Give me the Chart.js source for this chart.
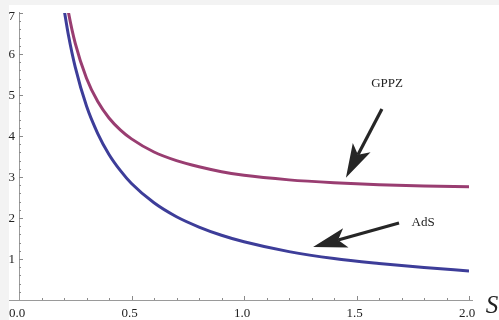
<!DOCTYPE html>
<html>
<head>
<meta charset="utf-8">
<script src="https://cdn.jsdelivr.net/npm/chart.js@4/dist/chart.umd.min.js"></script>
<style>
  html, body { margin: 0; padding: 0; background: #fff; }
  #wrap { width: 499px; height: 320px; }
</style>
</head>
<body>
<div id="wrap"><canvas id="plot" width="499" height="320"></canvas></div>
<script>
// sample points along S
const sValues = [0.2, 0.22, 0.25, 0.3, 0.35, 0.4, 0.45, 0.5, 0.6, 0.7, 0.8, 0.9, 1.0, 1.2, 1.4, 1.6, 1.8, 2.0];
const adsValues = [7.1, 6.45, 5.68, 4.73, 4.06, 3.55, 3.16, 2.84, 2.37, 2.03, 1.78, 1.58, 1.42, 1.18, 1.01, 0.89, 0.79, 0.71];
const gppzValues = [7.67, 7.01, 6.26, 5.41, 4.84, 4.44, 4.15, 3.93, 3.61, 3.4, 3.25, 3.13, 3.04, 2.93, 2.86, 2.81, 2.78, 2.76];

const xTicks = [0, 0.5, 1.0, 1.5, 2.0];
const xTickLabels = ["0.0", "0.5", "1.0", "1.5", "2.0"];
const yTicks = [1, 2, 3, 4, 5, 6, 7];
const yTickLabels = ["1", "2", "3", "4", "5", "6", "7"];

// arrow annotations in data units: [fromS, fromY, toS, toY]
const gppzArrow = [1.613, 4.66, 1.453, 2.98];
const adsArrow = [1.689, 1.88, 1.307, 1.29];
const gppzLabel = { text: "GPPZ", s: 1.636, y: 5.27 };
const adsLabel = { text: "AdS", s: 1.796, y: 1.88 };

const serif = '"Liberation Serif", "DejaVu Serif", serif';

function toPoints(values) {
  return sValues.map((s, i) => ({ x: s, y: values[i] }));
}

function drawArrow(ctx, x1, y1, x2, y2) {
  const ang = Math.atan2(y2 - y1, x2 - x1);
  const headLen = 34;
  const headHalf = 10;
  const notch = 26;
  const cos = Math.cos(ang), sin = Math.sin(ang);
  ctx.save();
  ctx.strokeStyle = "#262626";
  ctx.fillStyle = "#262626";
  ctx.lineWidth = 3.2;
  ctx.beginPath();
  ctx.moveTo(x1, y1);
  ctx.lineTo(x2 - cos * notch, y2 - sin * notch);
  ctx.stroke();
  const bx = x2 - cos * headLen, by = y2 - sin * headLen;
  ctx.beginPath();
  ctx.moveTo(x2, y2);
  ctx.lineTo(bx - sin * headHalf, by + cos * headHalf);
  ctx.lineTo(x2 - cos * notch, y2 - sin * notch);
  ctx.lineTo(bx + sin * headHalf, by - cos * headHalf);
  ctx.closePath();
  ctx.fill();
  ctx.restore();
}

const framePlugin = {
  id: "frame",
  beforeDraw(chart) {
    const ctx = chart.ctx;
    ctx.save();
    ctx.fillStyle = "#f3f3f3";
    ctx.fillRect(0, 0, chart.width, chart.height);
    ctx.fillStyle = "#ffffff";
    ctx.fillRect(9, 5, chart.width - 9, chart.height - 5);
    ctx.restore();
  },
  afterDatasetsDraw(chart) {
    const ctx = chart.ctx;
    const xs = chart.scales.x, ys = chart.scales.y;
    const x0 = xs.getPixelForValue(0);
    const y0 = ys.getPixelForValue(0);
    ctx.save();

    // axes
    ctx.strokeStyle = "#9a9a9a";
    ctx.lineWidth = 1;
    ctx.beginPath();
    ctx.moveTo(x0 + 0.5, ys.getPixelForValue(7) - 1);
    ctx.lineTo(x0 + 0.5, y0);
    ctx.moveTo(x0 - 10, y0 + 0.5);
    ctx.lineTo(xs.getPixelForValue(2.0) + 4, y0 + 0.5);
    ctx.stroke();

    // ticks drawn inward, minor every 0.1 on x and 0.2 on y
    ctx.strokeStyle = "#8a8a8a";
    ctx.beginPath();
    for (let i = 1; i <= 20; i++) {
      const px = Math.round(xs.getPixelForValue(i / 10)) + 0.5;
      const len = i % 5 === 0 ? 4 : 2;
      ctx.moveTo(px, y0);
      ctx.lineTo(px, y0 - len);
    }
    for (let i = 1; i <= 35; i++) {
      const py = Math.round(ys.getPixelForValue(i / 5)) + 0.5;
      const len = i % 5 === 0 ? 4 : 2;
      ctx.moveTo(x0, py);
      ctx.lineTo(x0 + len, py);
    }
    ctx.stroke();

    // tick labels
    ctx.fillStyle = "#222";
    ctx.font = "13px " + serif;
    ctx.textAlign = "center";
    ctx.textBaseline = "alphabetic";
    xTicks.forEach((v, i) => {
      ctx.fillText(xTickLabels[i], xs.getPixelForValue(v) - 2, y0 + 17);
    });
    ctx.textAlign = "right";
    ctx.textBaseline = "middle";
    yTicks.forEach((v, i) => {
      const py = Math.max(ys.getPixelForValue(v), 16);
      ctx.fillText(yTickLabels[i], x0 - 4, py + 1);
    });

    // axis title
    ctx.font = "italic 25px " + serif;
    ctx.textAlign = "center";
    ctx.textBaseline = "alphabetic";
    ctx.fillText("S", 492, y0 + 13);

    // annotations
    [gppzArrow, adsArrow].forEach(a => {
      drawArrow(ctx, xs.getPixelForValue(a[0]), ys.getPixelForValue(a[1]),
        xs.getPixelForValue(a[2]), ys.getPixelForValue(a[3]));
    });
    ctx.font = "13px " + serif;
    ctx.textBaseline = "middle";
    [gppzLabel, adsLabel].forEach(l => {
      ctx.fillText(l.text, xs.getPixelForValue(l.s), ys.getPixelForValue(l.y));
    });
    ctx.restore();
  }
};

new Chart(document.getElementById("plot").getContext("2d"), {
  type: "line",
  data: {
    datasets: [
      {
        label: "AdS",
        data: toPoints(adsValues),
        borderColor: "#3d3d99",
        borderWidth: 3,
        pointRadius: 0,
        cubicInterpolationMode: "monotone",
        clip: 0
      },
      {
        label: "GPPZ",
        data: toPoints(gppzValues),
        borderColor: "#993d71",
        borderWidth: 3,
        pointRadius: 0,
        cubicInterpolationMode: "monotone",
        clip: 0
      }
    ]
  },
  options: {
    responsive: false,
    animation: false,
    layout: { padding: { left: 19, top: 13, right: 30, bottom: 20 } },
    scales: {
      x: { type: "linear", min: 0, max: 2.0, display: false },
      y: { type: "linear", min: 0, max: 7, display: false }
    },
    plugins: {
      legend: { display: false },
      tooltip: { enabled: false }
    }
  },
  plugins: [framePlugin]
});
</script>
</body>
</html>
